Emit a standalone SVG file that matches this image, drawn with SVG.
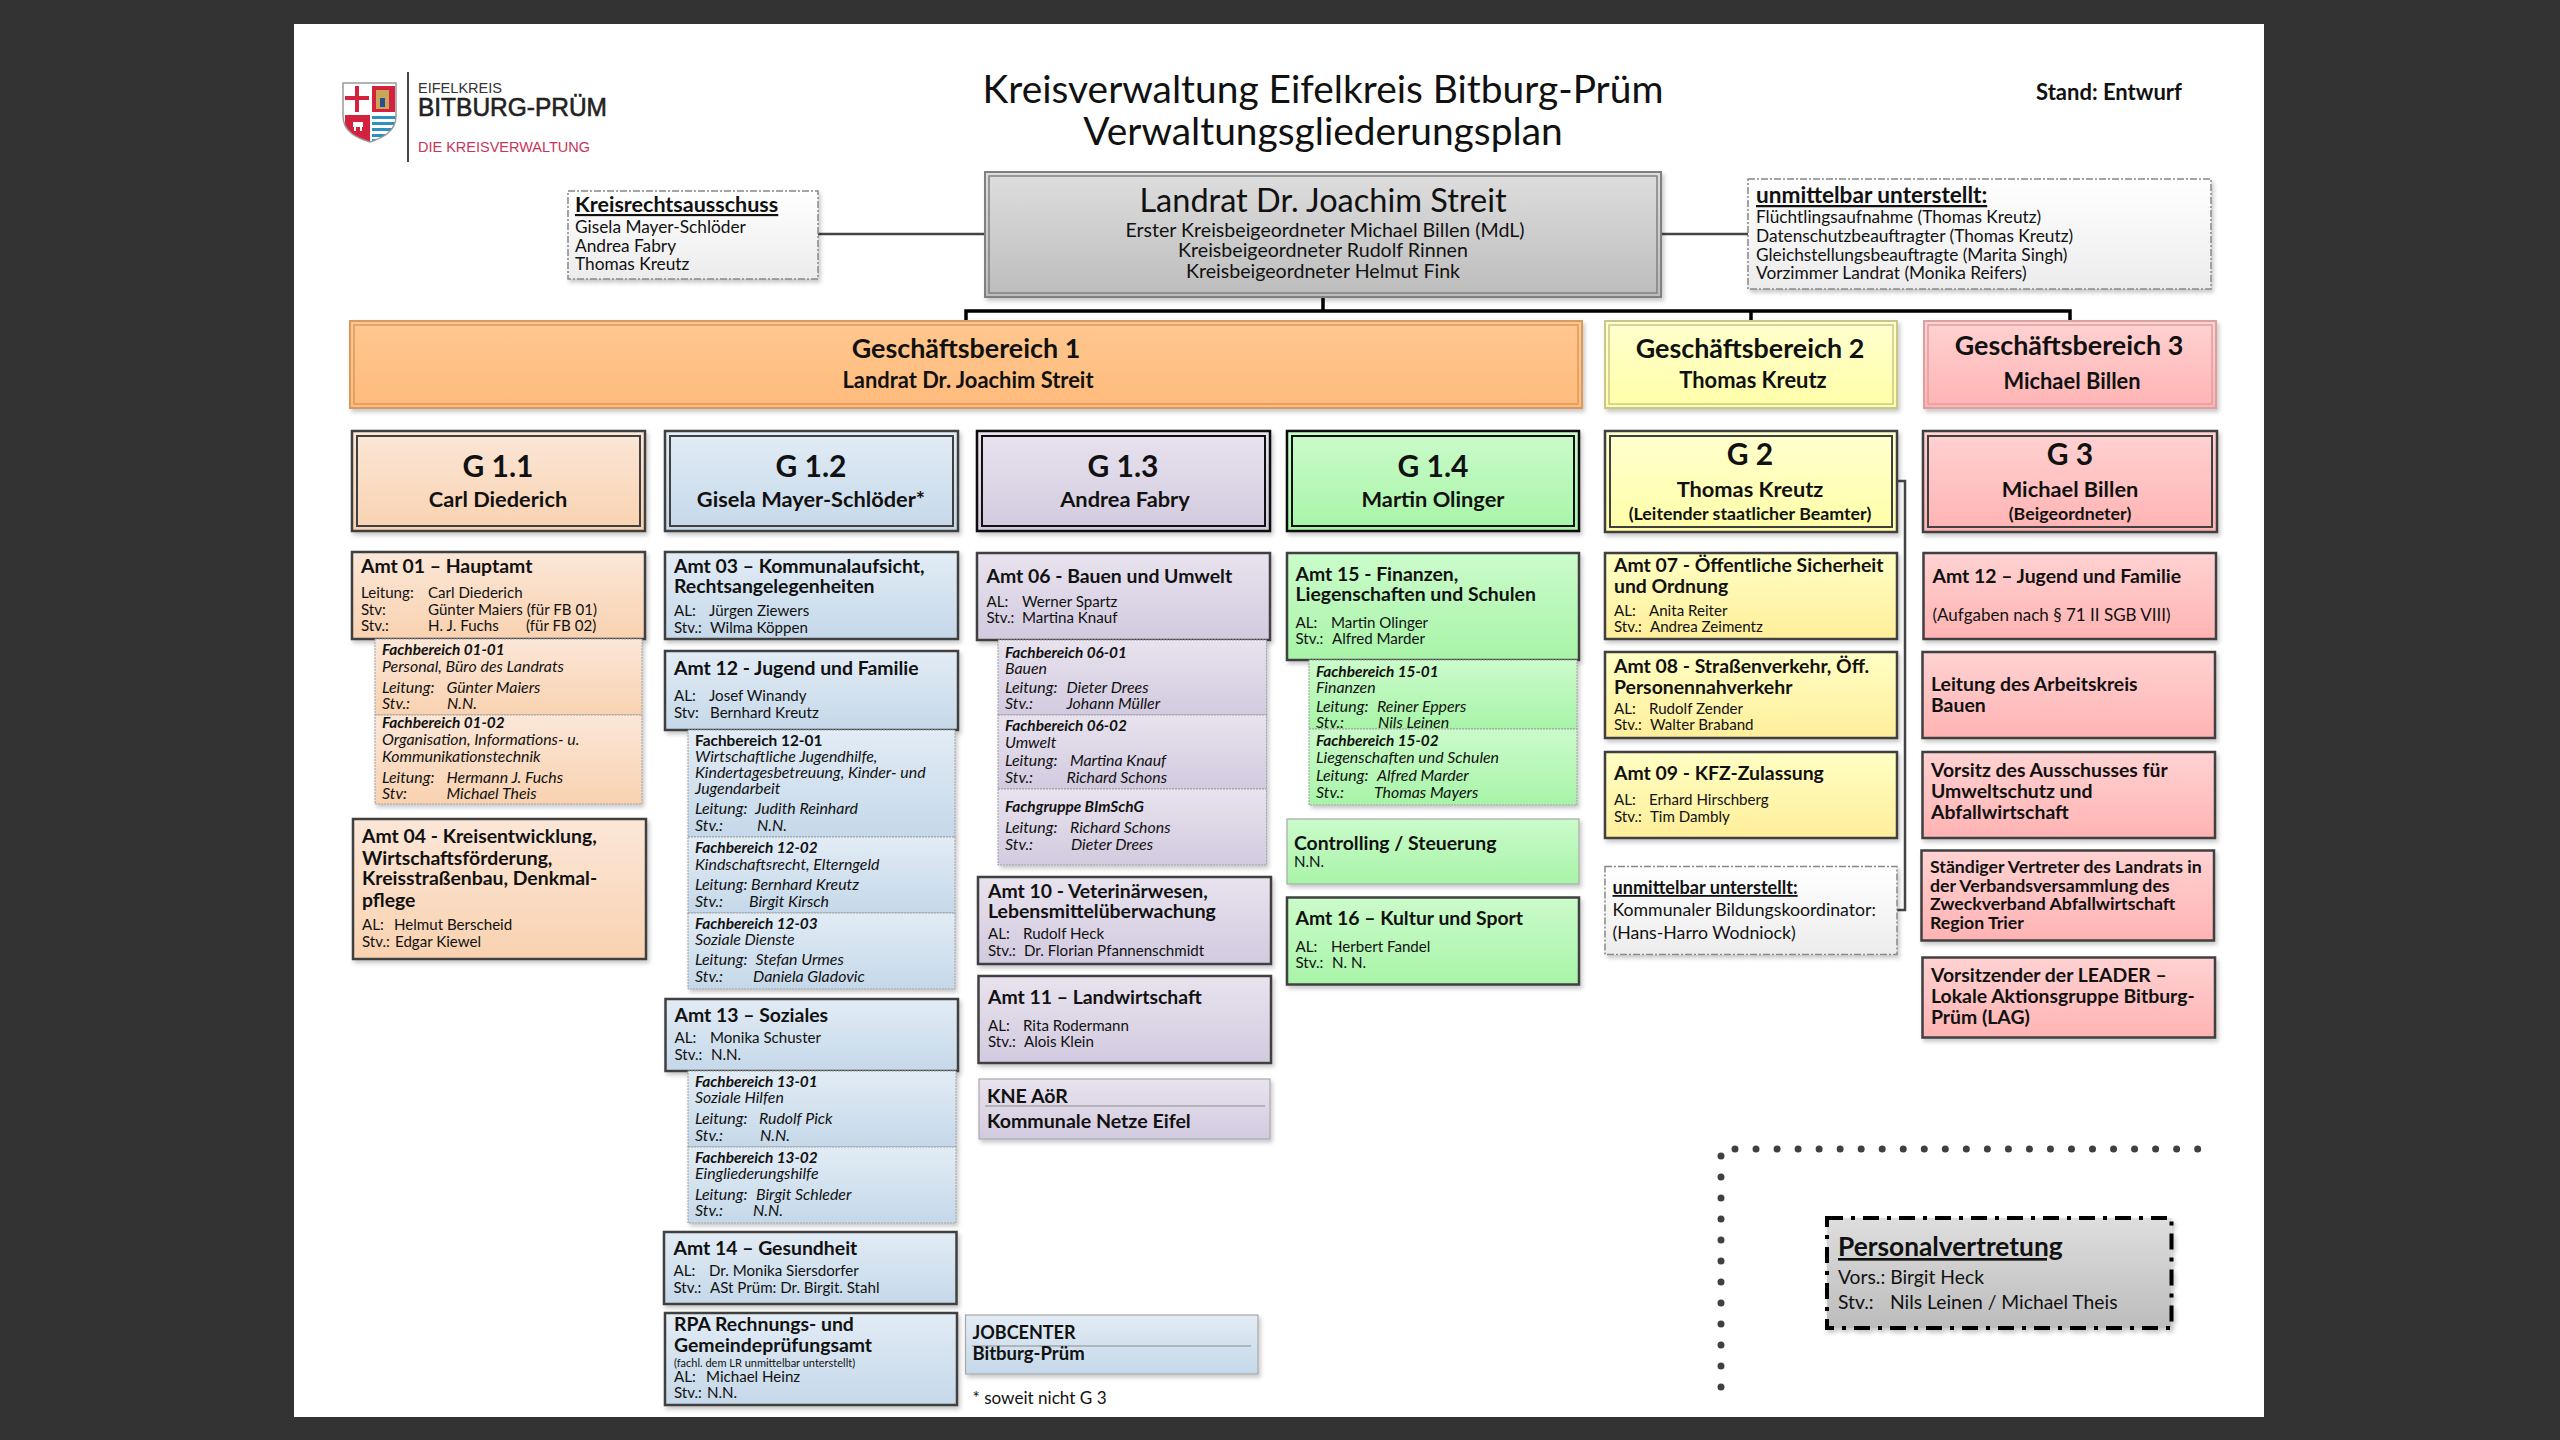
<svg xmlns="http://www.w3.org/2000/svg" width="2560" height="1440" viewBox="0 0 2560 1440">
<defs>
<linearGradient id="gGrey" x1="0" y1="0" x2="0" y2="1"><stop offset="0" stop-color="#dedede"/><stop offset="1" stop-color="#bcbcbc"/></linearGradient>
<linearGradient id="gWhite" x1="0" y1="0" x2="0" y2="1"><stop offset="0" stop-color="#ffffff"/><stop offset="1" stop-color="#ececec"/></linearGradient>
<linearGradient id="gOrange" x1="0" y1="0" x2="0" y2="1"><stop offset="0" stop-color="#ffc78f"/><stop offset="1" stop-color="#ffbb7c"/></linearGradient>
<linearGradient id="gYellowH" x1="0" y1="0" x2="0" y2="1"><stop offset="0" stop-color="#ffffcf"/><stop offset="1" stop-color="#ffffa8"/></linearGradient>
<linearGradient id="gYellow" x1="0" y1="0" x2="0" y2="1"><stop offset="0" stop-color="#ffffc4"/><stop offset="1" stop-color="#ffee9a"/></linearGradient>
<linearGradient id="gPink" x1="0" y1="0" x2="0" y2="1"><stop offset="0" stop-color="#ffd2d2"/><stop offset="1" stop-color="#ffb3b3"/></linearGradient>
<linearGradient id="gPeach" x1="0" y1="0" x2="0" y2="1"><stop offset="0" stop-color="#fbe7d8"/><stop offset="1" stop-color="#f9d2b0"/></linearGradient>
<linearGradient id="gBlue" x1="0" y1="0" x2="0" y2="1"><stop offset="0" stop-color="#e2ecf5"/><stop offset="1" stop-color="#c5d8e9"/></linearGradient>
<linearGradient id="gPurple" x1="0" y1="0" x2="0" y2="1"><stop offset="0" stop-color="#e8e3ee"/><stop offset="1" stop-color="#d2cadf"/></linearGradient>
<linearGradient id="gGreen" x1="0" y1="0" x2="0" y2="1"><stop offset="0" stop-color="#cbfbcb"/><stop offset="1" stop-color="#a8f4a8"/></linearGradient>
<filter id="sh" x="-5%" y="-10%" width="112%" height="125%"><feDropShadow dx="2" dy="3" stdDeviation="2" flood-color="#000" flood-opacity="0.22"/></filter>
<clipPath id="shield"><path d="M343 83H396V116C396 132 382 138 370 142C357 138 343 132 343 116Z"/></clipPath>
</defs>
<style>
text{font-family:Lato,"Open Sans","Liberation Sans",sans-serif;fill:#111}
.box{stroke:#404040;stroke-width:2.5;filter:url(#sh)}
.soft{stroke:#a8a8a8;stroke-width:1.2;filter:url(#sh)}
.fb{stroke:#a0a0a0;stroke-width:1;stroke-dasharray:2 1;filter:url(#sh)}
.dash{stroke:#888;stroke-width:1.5;stroke-dasharray:7 2 2 2;filter:url(#sh)}
.in{fill:none;stroke:#404040;stroke-width:2}
.orange{fill:url(#gOrange)}.yh{fill:url(#gYellowH)}.y{fill:url(#gYellow)}.pink{fill:url(#gPink)}.peach{fill:url(#gPeach)}.blue{fill:url(#gBlue)}.purple{fill:url(#gPurple)}.green{fill:url(#gGreen)}.grey{fill:url(#gGrey)}.white{fill:url(#gWhite)}
.h1{font-size:38.9px;text-anchor:middle}
.ld{font-size:32.5px;text-anchor:middle}
.sub{font-size:19.6px;text-anchor:middle}
.gb{font-size:26.9px;font-weight:700;text-anchor:middle}
.gs{font-size:21.9px;font-weight:700;text-anchor:middle}
.gn{font-size:30px;font-weight:700;text-anchor:middle}
.gp{font-size:21.8px;font-weight:700;text-anchor:middle}
.gq{font-size:17.8px;font-weight:700;text-anchor:middle}
.t{font-size:19.4px;font-weight:700}
.t2{font-size:19.6px;font-weight:700}
.d{font-size:15.1px}
.fh{font-size:15.4px;font-weight:700;font-style:italic}
.fi{font-size:15.9px;font-style:italic}
.n{font-size:17.3px}
.u{text-decoration:underline}
.con{fill:none;stroke:#444;stroke-width:2.5}
.bus{fill:none;stroke:#000;stroke-width:3.5}
</style>
<rect width="2560" height="1440" fill="#333333"/>
<rect x="294" y="24" width="1970" height="1393" fill="#ffffff"/>

<g id="logo">
<g clip-path="url(#shield)">
<rect x="343" y="83" width="53" height="59" fill="#fff"/>
<rect x="372" y="86" width="23" height="26" fill="#d4213d"/>
<rect x="345" y="115" width="25" height="27" fill="#d4213d"/>
<rect x="372" y="116" width="24" height="3" fill="#2f8fc0"/><rect x="372" y="122" width="24" height="3" fill="#2f8fc0"/><rect x="372" y="128" width="24" height="3" fill="#2f8fc0"/><rect x="372" y="134" width="24" height="3" fill="#2f8fc0"/><rect x="372" y="139" width="24" height="3" fill="#2f8fc0"/>
<rect x="355" y="86" width="4" height="26" fill="#d4213d"/>
<rect x="345" y="96" width="24" height="4" fill="#d4213d"/>
<rect x="376" y="90" width="13" height="19" fill="#caa65a"/>
<rect x="380" y="98" width="5" height="9" fill="#27508f"/>
<rect x="353" y="122" width="10" height="5" fill="#fff"/><rect x="354" y="127" width="2" height="4" fill="#fff"/><rect x="360" y="127" width="2" height="4" fill="#fff"/>
</g>
<path d="M343 83H396V116C396 132 382 138 370 142C357 138 343 132 343 116Z" fill="none" stroke="#999" stroke-width="1.5"/>
<line x1="408" y1="72" x2="408" y2="162" stroke="#444" stroke-width="2"/>
<text x="418" y="93" font-size="14" style="font-family:'Liberation Sans',sans-serif;fill:#333" textLength="84" lengthAdjust="spacingAndGlyphs">EIFELKREIS</text>
<text x="418" y="116" font-size="25" style="font-family:'Liberation Sans',sans-serif;fill:#222" stroke="#222" stroke-width=".6" textLength="189" lengthAdjust="spacingAndGlyphs">BITBURG-PRÜM</text>
<text x="418" y="152" font-size="14" style="font-family:'Liberation Sans',sans-serif;fill:#c8355a" textLength="172" lengthAdjust="spacingAndGlyphs">DIE KREISVERWALTUNG</text>
</g>

<g id="title">
<text class="h1" x="1323" y="103">Kreisverwaltung Eifelkreis Bitburg-Prüm</text>
<text class="h1" x="1323" y="145">Verwaltungsgliederungsplan</text>
<text x="2109" y="100" font-size="22" font-weight="700" text-anchor="middle">Stand: Entwurf</text>
</g>

<g id="connectors">
<path class="con" d="M818 234H985M1661 234H1748"/>
<path class="con" d="M1897 481H1905V910H1897"/>
<path class="bus" d="M966 322V311H2070V322M1323 297V311M1751 311V322"/>
<path fill="none" stroke="#404040" stroke-width="7" stroke-linecap="round" stroke-dasharray="0 21.03" d="M1735 1149H2198"/>
<path fill="none" stroke="#404040" stroke-width="7" stroke-linecap="round" stroke-dasharray="0 21" d="M1721 1156V1388"/>
</g>

<g id="landrat">
<rect x="985" y="172" width="676" height="125" class="grey" stroke="#808080" stroke-width="2" filter="url(#sh)"/>
<rect x="989" y="176" width="668" height="117" fill="none" stroke="#808080" stroke-width="1.5"/>
<text class="ld" x="1323" y="212">Landrat Dr. Joachim Streit</text>
<text class="sub" x="1325" y="237">Erster Kreisbeigeordneter Michael Billen (MdL)</text>
<text class="sub" x="1323" y="257">Kreisbeigeordneter Rudolf Rinnen</text>
<text class="sub" x="1323" y="278">Kreisbeigeordneter Helmut Fink</text>
</g>

<g id="kreisrechtsausschuss">
<rect x="568" y="191" width="250" height="88" class="white dash"/>
<text x="575" y="212" font-size="21.5" font-weight="700" class="u">Kreisrechtsausschuss</text>
<text class="n" x="575" y="233">Gisela Mayer-Schlöder</text>
<text class="n" x="575" y="252">Andrea Fabry</text>
<text class="n" x="575" y="270">Thomas Kreutz</text>
</g>

<g id="unmittelbar-landrat">
<rect x="1748" y="179" width="463" height="110" class="white dash"/>
<text x="1756" y="203" font-size="22.6" font-weight="700" class="u">unmittelbar unterstellt:</text>
<text class="n" x="1756" y="223">Flüchtlingsaufnahme (Thomas Kreutz)</text>
<text class="n" x="1756" y="242">Datenschutzbeauftragter (Thomas Kreutz)</text>
<text class="n" x="1756" y="261">Gleichstellungsbeauftragte (Marita Singh)</text>
<text class="n" x="1756" y="279">Vorzimmer Landrat (Monika Reifers)</text>
</g>

<g id="gb1">
<rect x="350" y="321" width="1232" height="87" class="orange" stroke="#d89a5e" stroke-width="2" filter="url(#sh)"/>
<rect x="354" y="325" width="1224" height="79" fill="none" stroke="#d89a5e" stroke-width="1.5"/>
<text class="gb" x="966" y="358">Geschäftsbereich 1</text>
<text class="gs" x="968" y="388">Landrat Dr. Joachim Streit</text>
</g>
<g id="gb2">
<rect x="1605" y="321" width="292" height="87" class="yh" stroke="#c8c88a" stroke-width="2" filter="url(#sh)"/>
<rect x="1609" y="325" width="284" height="79" fill="none" stroke="#c8c88a" stroke-width="1.5"/>
<text class="gb" x="1750" y="358">Geschäftsbereich 2</text>
<text class="gs" x="1753" y="388">Thomas Kreutz</text>
</g>
<g id="gb3">
<rect x="1924" y="321" width="292" height="87" class="pink" stroke="#dda0a0" stroke-width="2" filter="url(#sh)"/>
<rect x="1928" y="325" width="284" height="79" fill="none" stroke="#dda0a0" stroke-width="1.5"/>
<text class="gb" x="2069" y="355">Geschäftsbereich 3</text>
<text class="gs" x="2072" y="389">Michael Billen</text>
</g>

<g id="g11">
<rect x="352" y="431" width="293" height="100" class="peach box"/><rect x="357" y="436" width="283" height="90" class="in"/>
<text class="gn" x="498" y="477">G 1.1</text><text class="gp" x="498" y="507">Carl Diederich</text>
</g>
<g id="g12">
<rect x="665" y="431" width="293" height="100" class="blue box"/><rect x="670" y="436" width="283" height="90" class="in"/>
<text class="gn" x="811" y="477">G 1.2</text><text class="gp" x="811" y="507">Gisela Mayer-Schlöder*</text>
</g>
<g id="g13">
<rect x="977" y="431" width="293" height="100" class="purple box" style="stroke:#111"/><rect x="982" y="436" width="283" height="90" class="in" style="stroke:#111"/>
<text class="gn" x="1123" y="477">G 1.3</text><text class="gp" x="1125" y="507">Andrea Fabry</text>
</g>
<g id="g14">
<rect x="1287" y="431" width="292" height="100" class="green box" style="stroke:#111"/><rect x="1292" y="436" width="282" height="90" class="in" style="stroke:#111"/>
<text class="gn" x="1433" y="477">G 1.4</text><text class="gp" x="1433" y="507">Martin Olinger</text>
</g>
<g id="g2">
<rect x="1605" y="431" width="292" height="101" class="yh box"/><rect x="1610" y="436" width="282" height="91" class="in"/>
<text class="gn" x="1750" y="465">G 2</text><text class="gp" x="1750" y="497">Thomas Kreutz</text><text class="gq" x="1750" y="520">(Leitender staatlicher Beamter)</text>
</g>
<g id="g3">
<rect x="1923" y="431" width="294" height="101" class="pink box"/><rect x="1928" y="436" width="284" height="91" class="in"/>
<text class="gn" x="2070" y="465">G 3</text><text class="gp" x="2070" y="497">Michael Billen</text><text class="gq" x="2070" y="520">(Beigeordneter)</text>
</g>

<g id="amt01">
<rect x="352" y="552" width="293" height="87" class="peach box"/>
<text class="t" x="361" y="572.5">Amt 01 – Hauptamt</text>
<text class="d" y="598"><tspan x="361">Leitung:</tspan><tspan x="428">Carl Diederich</tspan></text>
<text class="d" y="615"><tspan x="361">Stv:</tspan><tspan x="428">Günter Maiers (für FB 01)</tspan></text>
<text class="d" y="631"><tspan x="361">Stv.:</tspan><tspan x="428">H. J. Fuchs</tspan><tspan x="526">(für FB 02)</tspan></text>
</g>
<g id="fb0101">
<rect x="375" y="639" width="267" height="76" class="peach fb"/>
<text class="fh" x="382" y="655">Fachbereich 01-01</text>
<text class="fi" x="382" y="672">Personal, Büro des Landrats</text>
<text class="fi" y="692.5"><tspan x="382">Leitung:</tspan><tspan x="446.5">Günter Maiers</tspan></text>
<text class="fi" y="709"><tspan x="382">Stv.:</tspan><tspan x="447">N.N.</tspan></text>
</g>
<g id="fb0102">
<rect x="375" y="715" width="267" height="89" class="peach fb"/>
<text class="fh" x="382" y="728">Fachbereich 01-02</text>
<text class="fi" x="382" y="745">Organisation, Informations- u.</text>
<text class="fi" x="382" y="762">Kommunikationstechnik</text>
<text class="fi" y="782.5"><tspan x="382">Leitung:</tspan><tspan x="446.5">Hermann J. Fuchs</tspan></text>
<text class="fi" y="798.5"><tspan x="382">Stv:</tspan><tspan x="446.5">Michael Theis</tspan></text>
</g>
<g id="amt04">
<rect x="353" y="819" width="293" height="140" class="peach box"/>
<text class="t" x="362" y="843">Amt 04 - Kreisentwicklung,</text>
<text class="t" x="362" y="865">Wirtschaftsförderung,</text>
<text class="t" x="362" y="885">Kreisstraßenbau, Denkmal-</text>
<text class="t" x="362" y="906.5">pflege</text>
<text class="d" y="930"><tspan x="362">AL:</tspan><tspan x="394">Helmut Berscheid</tspan></text>
<text class="d" y="947"><tspan x="362">Stv.:</tspan><tspan x="395">Edgar Kiewel</tspan></text>
</g>

<g id="amt03">
<rect x="665" y="552" width="293" height="87" class="blue box"/>
<text class="t" x="674" y="572.5">Amt 03 – Kommunalaufsicht,</text>
<text class="t" x="674" y="593">Rechtsangelegenheiten</text>
<text class="d" y="616"><tspan x="674">AL:</tspan><tspan x="709">Jürgen Ziewers</tspan></text>
<text class="d" y="632.5"><tspan x="674">Stv.:</tspan><tspan x="710">Wilma Köppen</tspan></text>
</g>
<g id="amt12">
<rect x="665" y="651" width="293" height="79" class="blue box"/>
<text class="t" x="674" y="675">Amt 12 - Jugend und Familie</text>
<text class="d" y="701"><tspan x="674">AL:</tspan><tspan x="709">Josef Winandy</tspan></text>
<text class="d" y="717.5"><tspan x="674">Stv:</tspan><tspan x="710">Bernhard Kreutz</tspan></text>
</g>
<g id="fb1201">
<rect x="688" y="730" width="267" height="107" class="blue fb"/>
<text class="fh" x="695" y="746" style="font-style:normal">Fachbereich 12-01</text>
<text class="fi" x="695" y="762">Wirtschaftliche Jugendhilfe,</text>
<text class="fi" x="695" y="778">Kindertagesbetreuung, Kinder- und</text>
<text class="fi" x="695" y="794">Jugendarbeit</text>
<text class="fi" y="814"><tspan x="695">Leitung:</tspan><tspan x="755">Judith Reinhard</tspan></text>
<text class="fi" y="831"><tspan x="695">Stv.:</tspan><tspan x="757">N.N.</tspan></text>
</g>
<g id="fb1202">
<rect x="688" y="837" width="267" height="76" class="blue fb"/>
<text class="fh" x="695" y="853">Fachbereich 12-02</text>
<text class="fi" x="695" y="870">Kindschaftsrecht, Elterngeld</text>
<text class="fi" y="890"><tspan x="695">Leitung:</tspan><tspan x="751">Bernhard Kreutz</tspan></text>
<text class="fi" y="906.5"><tspan x="695">Stv.:</tspan><tspan x="749">Birgit Kirsch</tspan></text>
</g>
<g id="fb1203">
<rect x="688" y="913" width="267" height="76" class="blue fb"/>
<text class="fh" x="695" y="929">Fachbereich 12-03</text>
<text class="fi" x="695" y="945">Soziale Dienste</text>
<text class="fi" y="965"><tspan x="695">Leitung:</tspan><tspan x="755.5">Stefan Urmes</tspan></text>
<text class="fi" y="982"><tspan x="695">Stv.:</tspan><tspan x="753">Daniela Gladovic</tspan></text>
</g>
<g id="amt13">
<rect x="665.5" y="999" width="292.5" height="72" class="blue box"/>
<text class="t" x="674.5" y="1022">Amt 13 – Soziales</text>
<text class="d" y="1043"><tspan x="674.5">AL:</tspan><tspan x="710">Monika Schuster</tspan></text>
<text class="d" y="1060"><tspan x="674.5">Stv.:</tspan><tspan x="711">N.N.</tspan></text>
</g>
<g id="fb1301">
<rect x="688" y="1071" width="268" height="76" class="blue fb"/>
<text class="fh" x="695" y="1087">Fachbereich 13-01</text>
<text class="fi" x="695" y="1103">Soziale Hilfen</text>
<text class="fi" y="1124"><tspan x="695">Leitung:</tspan><tspan x="759">Rudolf Pick</tspan></text>
<text class="fi" y="1141"><tspan x="695">Stv.:</tspan><tspan x="760">N.N.</tspan></text>
</g>
<g id="fb1302">
<rect x="688" y="1147" width="268" height="76" class="blue fb"/>
<text class="fh" x="695" y="1163">Fachbereich 13-02</text>
<text class="fi" x="695" y="1179">Eingliederungshilfe</text>
<text class="fi" y="1200"><tspan x="695">Leitung:</tspan><tspan x="756">Birgit Schleder</tspan></text>
<text class="fi" y="1216"><tspan x="695">Stv.:</tspan><tspan x="753">N.N.</tspan></text>
</g>
<g id="amt14">
<rect x="664" y="1232" width="292.5" height="72" class="blue box"/>
<text class="t" x="673.5" y="1255">Amt 14 – Gesundheit</text>
<text class="d" y="1276"><tspan x="673.5">AL:</tspan><tspan x="709">Dr. Monika Siersdorfer</tspan></text>
<text class="d" y="1293"><tspan x="673.5">Stv.:</tspan><tspan x="710">ASt Prüm: Dr. Birgit. Stahl</tspan></text>
</g>
<g id="rpa">
<rect x="665" y="1313" width="292" height="92" class="blue box"/>
<text class="t" x="674" y="1331">RPA Rechnungs- und</text>
<text class="t" x="674" y="1352">Gemeindeprüfungsamt</text>
<text x="674" y="1367" font-size="11">(fachl. dem LR unmittelbar unterstellt)</text>
<text class="d" y="1382"><tspan x="674">AL:</tspan><tspan x="706">Michael Heinz</tspan></text>
<text class="d" y="1398"><tspan x="674">Stv.:</tspan><tspan x="707">N.N.</tspan></text>
</g>
<g id="jobcenter">
<rect x="965.5" y="1315" width="292.5" height="59" class="blue soft"/>
<line x1="972" y1="1346" x2="1251" y2="1346" stroke="#8a8a8a" stroke-width="1"/>
<text x="972.5" y="1339" font-size="18" font-weight="700">JOBCENTER</text>
<text x="972.5" y="1360" font-size="18.5" font-weight="700">Bitburg-Prüm</text>
</g>
<text id="fussnote" x="972.5" y="1404" font-size="17.1">* soweit nicht G 3</text>

<g id="amt06">
<rect x="977" y="553" width="293" height="87" class="purple box"/>
<text class="t" x="986.5" y="582.5">Amt 06 - Bauen und Umwelt</text>
<text class="d" y="607"><tspan x="986.5">AL:</tspan><tspan x="1022">Werner Spartz</tspan></text>
<text class="d" y="622.5"><tspan x="986.5">Stv.:</tspan><tspan x="1022">Martina Knauf</tspan></text>
</g>
<g id="fb0601">
<rect x="998" y="640" width="268.5" height="75" class="purple fb"/>
<text class="fh" x="1005" y="657.5">Fachbereich 06-01</text>
<text class="fi" x="1005" y="674">Bauen</text>
<text class="fi" y="692.5"><tspan x="1005">Leitung:</tspan><tspan x="1066.5">Dieter Drees</tspan></text>
<text class="fi" y="709"><tspan x="1005">Stv.:</tspan><tspan x="1066.5">Johann Müller</tspan></text>
</g>
<g id="fb0602">
<rect x="998" y="715" width="268.5" height="74" class="purple fb"/>
<text class="fh" x="1005" y="731">Fachbereich 06-02</text>
<text class="fi" x="1005" y="748">Umwelt</text>
<text class="fi" y="766"><tspan x="1005">Leitung:</tspan><tspan x="1070">Martina Knauf</tspan></text>
<text class="fi" y="782.5"><tspan x="1005">Stv.:</tspan><tspan x="1066.5">Richard Schons</tspan></text>
</g>
<g id="fg-blmschg">
<rect x="998" y="789" width="268.5" height="76" class="purple fb"/>
<text class="fh" x="1005" y="812">Fachgruppe BImSchG</text>
<text class="fi" y="833"><tspan x="1005">Leitung:</tspan><tspan x="1070">Richard Schons</tspan></text>
<text class="fi" y="849.5"><tspan x="1005">Stv.:</tspan><tspan x="1071">Dieter Drees</tspan></text>
</g>
<g id="amt10">
<rect x="978" y="877" width="293" height="87" class="purple box"/>
<text class="t" x="988" y="897.5">Amt 10 - Veterinärwesen,</text>
<text class="t" x="988" y="918">Lebensmittelüberwachung</text>
<text class="d" y="938.5"><tspan x="988">AL:</tspan><tspan x="1023">Rudolf Heck</tspan></text>
<text class="d" y="956"><tspan x="988">Stv.:</tspan><tspan x="1024">Dr. Florian Pfannenschmidt</tspan></text>
</g>
<g id="amt11">
<rect x="978.5" y="976" width="292.5" height="87" class="purple box"/>
<text class="t" x="988" y="1004">Amt 11 – Landwirtschaft</text>
<text class="d" y="1031"><tspan x="988">AL:</tspan><tspan x="1023">Rita Rodermann</tspan></text>
<text class="d" y="1047"><tspan x="988">Stv.:</tspan><tspan x="1024">Alois Klein</tspan></text>
</g>
<g id="kne">
<rect x="979" y="1079" width="291" height="60" class="purple soft"/>
<line x1="985" y1="1106" x2="1265" y2="1106" stroke="#8a8a8a" stroke-width="1"/>
<text class="t2" x="987" y="1103">KNE AöR</text>
<text class="t2" x="987" y="1128">Kommunale Netze Eifel</text>
</g>

<g id="amt15">
<rect x="1287" y="553" width="292" height="107" class="green box"/>
<text class="t" x="1295.5" y="581">Amt 15 - Finanzen,</text>
<text class="t" x="1295.5" y="601">Liegenschaften und Schulen</text>
<text class="d" y="628"><tspan x="1295.5">AL:</tspan><tspan x="1331">Martin Olinger</tspan></text>
<text class="d" y="644"><tspan x="1295.5">Stv.:</tspan><tspan x="1332">Alfred Marder</tspan></text>
</g>
<g id="fb1501">
<rect x="1309" y="660" width="268" height="69" class="green fb"/>
<text class="fh" x="1316" y="677">Fachbereich 15-01</text>
<text class="fi" x="1316" y="693">Finanzen</text>
<text class="fi" y="712"><tspan x="1316">Leitung:</tspan><tspan x="1377">Reiner Eppers</tspan></text>
<text class="fi" y="728"><tspan x="1316">Stv.:</tspan><tspan x="1378">Nils Leinen</tspan></text>
</g>
<g id="fb1502">
<rect x="1309" y="729" width="268" height="76" class="green fb"/>
<text class="fh" x="1316" y="746">Fachbereich 15-02</text>
<text class="fi" x="1316" y="763">Liegenschaften und Schulen</text>
<text class="fi" y="781"><tspan x="1316">Leitung:</tspan><tspan x="1377">Alfred Marder</tspan></text>
<text class="fi" y="798"><tspan x="1316">Stv.:</tspan><tspan x="1374">Thomas Mayers</tspan></text>
</g>
<g id="controlling">
<rect x="1287" y="819" width="292" height="65" class="green soft"/>
<text class="t" x="1294" y="850">Controlling / Steuerung</text>
<text class="d" x="1294" y="867">N.N.</text>
</g>
<g id="amt16">
<rect x="1287" y="897.5" width="292" height="87" class="green box"/>
<text class="t" x="1295.5" y="925">Amt 16 – Kultur und Sport</text>
<text class="d" y="952"><tspan x="1295.5">AL:</tspan><tspan x="1331">Herbert Fandel</tspan></text>
<text class="d" y="968"><tspan x="1295.5">Stv.:</tspan><tspan x="1332">N. N.</tspan></text>
</g>

<g id="amt07">
<rect x="1605" y="553" width="292" height="86" class="y box"/>
<text class="t" x="1614" y="572">Amt 07 - Öffentliche Sicherheit</text>
<text class="t" x="1614" y="593">und Ordnung</text>
<text class="d" y="616"><tspan x="1614">AL:</tspan><tspan x="1649">Anita Reiter</tspan></text>
<text class="d" y="632"><tspan x="1614">Stv.:</tspan><tspan x="1650">Andrea Zeimentz</tspan></text>
</g>
<g id="amt08">
<rect x="1605" y="652" width="292" height="86" class="y box"/>
<text class="t" x="1614" y="672.5">Amt 08 - Straßenverkehr, Öff.</text>
<text class="t" x="1614" y="693.5">Personennahverkehr</text>
<text class="d" y="713.5"><tspan x="1614">AL:</tspan><tspan x="1649">Rudolf Zender</tspan></text>
<text class="d" y="730"><tspan x="1614">Stv.:</tspan><tspan x="1650">Walter Braband</tspan></text>
</g>
<g id="amt09">
<rect x="1605" y="752" width="292" height="86" class="y box"/>
<text class="t" x="1614" y="780">Amt 09 - KFZ-Zulassung</text>
<text class="d" y="805"><tspan x="1614">AL:</tspan><tspan x="1649">Erhard Hirschberg</tspan></text>
<text class="d" y="822"><tspan x="1614">Stv.:</tspan><tspan x="1650">Tim Dambly</tspan></text>
</g>
<g id="unmittelbar-g2">
<rect x="1605" y="866.5" width="292" height="88" class="white dash"/>
<text x="1612.5" y="894" font-size="18.1" font-weight="700" class="u">unmittelbar unterstellt:</text>
<text x="1612.5" y="916" font-size="17.7">Kommunaler Bildungskoordinator:</text>
<text x="1612.5" y="938.5" font-size="17.7">(Hans-Harro Wodniock)</text>
</g>

<g id="g3-amt12">
<rect x="1923.5" y="553" width="292.5" height="86" class="pink box"/>
<text class="t" x="1932.5" y="582.5">Amt 12 – Jugend und Familie</text>
<text x="1932.5" y="621" font-size="17">(Aufgaben nach § 71 II SGB VIII)</text>
</g>
<g id="g3-bauen">
<rect x="1922.5" y="652" width="292.5" height="86" class="pink box"/>
<text class="t" x="1931" y="690.5">Leitung des Arbeitskreis</text>
<text class="t" x="1931" y="711.5">Bauen</text>
</g>
<g id="g3-vorsitz">
<rect x="1922.5" y="752" width="292.5" height="86" class="pink box"/>
<text class="t" x="1931" y="777">Vorsitz des Ausschusses für</text>
<text class="t" x="1931" y="798">Umweltschutz und</text>
<text class="t" x="1931" y="819">Abfallwirtschaft</text>
</g>
<g id="g3-vertreter">
<rect x="1921.5" y="850.5" width="292.5" height="90" class="pink box"/>
<text x="1930" y="873" font-size="17.7" font-weight="700">Ständiger Vertreter des Landrats in</text>
<text x="1930" y="891.5" font-size="17.7" font-weight="700">der Verbandsversammlung des</text>
<text x="1930" y="910" font-size="17.7" font-weight="700">Zweckverband Abfallwirtschaft</text>
<text x="1930" y="929" font-size="17.7" font-weight="700">Region Trier</text>
</g>
<g id="g3-leader">
<rect x="1922.5" y="957.5" width="292.5" height="80" class="pink box"/>
<text class="t" x="1931" y="982">Vorsitzender der LEADER –</text>
<text class="t" x="1931" y="1003">Lokale Aktionsgruppe Bitburg-</text>
<text class="t" x="1931" y="1024">Prüm (LAG)</text>
</g>

<g id="personalvertretung">
<rect x="1827" y="1218" width="344.5" height="110" fill="url(#gGrey)" stroke="#000" stroke-width="4" stroke-dasharray="16 8 4 8" filter="url(#sh)"/>
<text x="1838" y="1256" font-size="26.3" font-weight="700" class="u">Personalvertretung</text>
<text x="1838" y="1284" font-size="19.3">Vors.: Birgit Heck</text>
<text y="1309" font-size="19.3"><tspan x="1838">Stv.:</tspan><tspan x="1890">Nils Leinen / Michael Theis</tspan></text>
</g>
</svg>
